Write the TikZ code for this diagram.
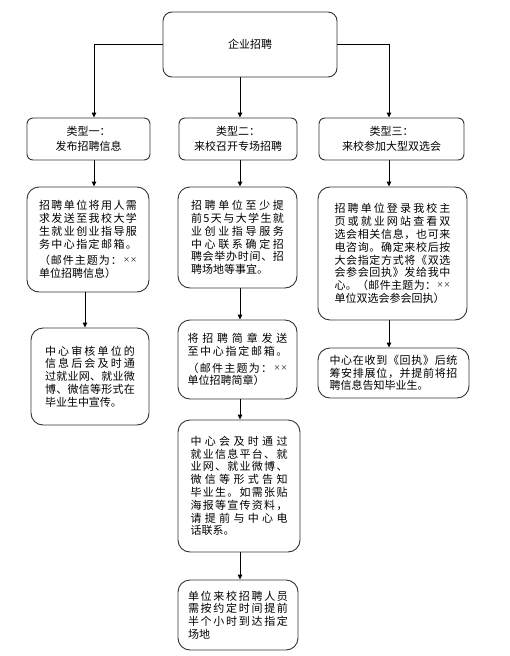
\documentclass[tikz,border=0pt]{standalone}
\usepackage{fontspec}
\setmainfont{Noto Sans CJK SC}
\usetikzlibrary{arrows.meta}
\XeTeXinterchartoks 0 0 = {\hskip 0pt plus 1fil\relax}
\XeTeXinterchartoks 0 1 = {\hskip 0pt plus 1fil\relax}
\XeTeXinterchartoks 0 2 = {\hskip 0pt plus 1fil\relax}
\XeTeXinterchartoks 0 3 = {\hskip 0pt plus 1fil\relax}
\XeTeXinterchartoks 1 0 = {\hskip 0pt plus 1fil\relax}
\XeTeXinterchartoks 1 1 = {\hskip 0pt plus 1fil\relax}
\XeTeXinterchartoks 1 2 = {\hskip 0pt plus 1fil\relax}
\XeTeXinterchartoks 1 3 = {\hskip 0pt plus 1fil\relax}
\XeTeXinterchartoks 2 0 = {\hskip 0pt plus 1fil\relax}
\XeTeXinterchartoks 2 1 = {\hskip 0pt plus 1fil\relax}
\XeTeXinterchartoks 2 2 = {\hskip 0pt plus 1fil\relax}
\XeTeXinterchartoks 2 3 = {\hskip 0pt plus 1fil\relax}
\XeTeXinterchartoks 3 0 = {\hskip 0pt plus 1fil\relax}
\XeTeXinterchartoks 3 1 = {\hskip 0pt plus 1fil\relax}
\XeTeXinterchartoks 3 2 = {\hskip 0pt plus 1fil\relax}
\XeTeXinterchartoks 3 3 = {\hskip 0pt plus 1fil\relax}
\newcommand\jst{\XeTeXinterchartokenstate=1 \parindent=0pt\relax}
\newcommand\lastl{\hskip 0pt plus 1fill\kern0pt\relax}
\newcommand\xx{\hskip 0pt plus 1fil\mbox{\raisebox{2pt}{\fontsize{7}{7}\selectfont\XeTeXinterchartokenstate=0 ××}}}
\tikzset{
  basebox/.style={draw=black!80, line width=0.9pt, inner xsep=0pt, inner ysep=2pt,
    font=\fontsize{11}{12.8}\selectfont},
  topbox/.style={basebox, rounded corners=9pt, align=center},
  typebox/.style={basebox, rounded corners=6pt, align=center,
    font=\fontsize{11}{15}\selectfont},
  cbox/.style={basebox, rounded corners=12pt, align=justify},
  arr/.style={draw=black, line width=0.9pt, -{Triangle[length=5pt,width=4.5pt]}}
}
\begin{document}
\begin{tikzpicture}[x=1pt,y=-1pt]
\useasboundingbox (0,0) rectangle (510,656);
\coordinate (c1a) at (94,0);
\coordinate (c1b) at (85,0);
\coordinate (c2) at (240,0);
\coordinate (c3) at (389,0);

\node[topbox, minimum width=174pt, minimum height=65pt] (top) at (250,44.5) {企业招聘};

\node[typebox, minimum width=123pt, minimum height=42pt] (t1) at (88.5,139) {类型一：\\发布招聘信息};
\node[typebox, minimum width=118pt, minimum height=42pt] (t2) at (238,139) {类型二：\\来校召开专场招聘};
\node[typebox, minimum width=145pt, minimum height=42pt] (t3) at (391.5,139) {类型三：\\来校参加大型双选会};

\node[cbox, minimum width=122pt, minimum height=105pt, text width=98pt] (b11) at (88,239.5)
{\jst 招聘单位将用人需\break 求发送至我校大学\break 生就业创业指导服\break 务中心指定邮箱。\vspace{4pt}\break （邮件主题为：\xx\break 单位招聘信息）\lastl};
\node[cbox, minimum width=118pt, minimum height=97pt, text width=90pt] (b12) at (90,376.5)
{\jst 中心审核单位的\break 信息后会及时通\break 过就业网、就业微\break 博、微信等形式在\break 毕业生中宣传。\lastl};

\node[cbox, minimum width=119pt, minimum height=101pt, text width=93pt] (b21) at (237.5,237.5)
{\jst 招聘单位至少提\break 前5天与大学生就\break 业创业指导服务\break 中心联系确定招\break 聘会举办时间、招\break 聘场地等事宜。\lastl};
\node[cbox, minimum width=119pt, minimum height=79pt, text width=100pt] (b22) at (237.5,359.5)
{\jst 将招聘简章发送\break 至中心指定邮箱。\vspace{4pt}\break （邮件主题为：\xx\break 单位招聘简章）\lastl};
\node[cbox, minimum width=122pt, minimum height=132pt, text width=97pt] (b23) at (239,486)
{\jst 中心会及时通过\break 就业信息平台、就\break 业网、就业微博、\break 微信等形式告知\break 毕业生。如需张贴\break 海报等宣传资料，\break 请提前与中心电\break 话联系。\lastl};
\node[cbox, minimum width=120pt, minimum height=70pt, text width=100pt] (b24) at (238,615)
{\jst 单位来校招聘人员\break 需按约定时间提前\break 半个小时到达指定\break 场地\lastl};

\node[cbox, minimum width=149pt, minimum height=133pt, text width=116pt] (b31) at (392.5,253.5)
{\jst 招聘单位登录我校主\break 页或就业网站查看双\break 选会相关信息，也可来\break 电咨询。确定来校后按\break 大会指定方式将《双选\break 会参会回执》发给我中\break 心。（邮件主题为：\xx\break 单位双选会参会回执）\lastl};
\node[cbox, minimum width=151pt, minimum height=50pt, text width=128pt] (b32) at (393.5,373)
{\jst 中心在收到《回执》后统\break 筹安排展位，并提前将招\break 聘信息告知毕业生。\lastl};

\draw[arr] (top.west) -| (t1.north -| c1a);
\draw[arr] (top.south -| c2) -- (t2.north -| c2);
\draw[arr] (top.east) -| (t3.north -| c3);
\draw[arr] (t1.south -| c1a) -- (b11.north -| c1a);
\draw[arr] (b11.south -| c1b) -- (b12.north -| c1b);
\draw[arr] (t2.south -| c2) -- (b21.north -| c2);
\draw[arr] (b21.south -| c2) -- (b22.north -| c2);
\draw[arr] (b22.south -| c2) -- (b23.north -| c2);
\draw[arr] (b23.south -| c2) -- (b24.north -| c2);
\draw[arr] (t3.south -| c3) -- (b31.north -| c3);
\draw[arr] (b31.south -| c3) -- (b32.north -| c3);
\end{tikzpicture}
\end{document}
